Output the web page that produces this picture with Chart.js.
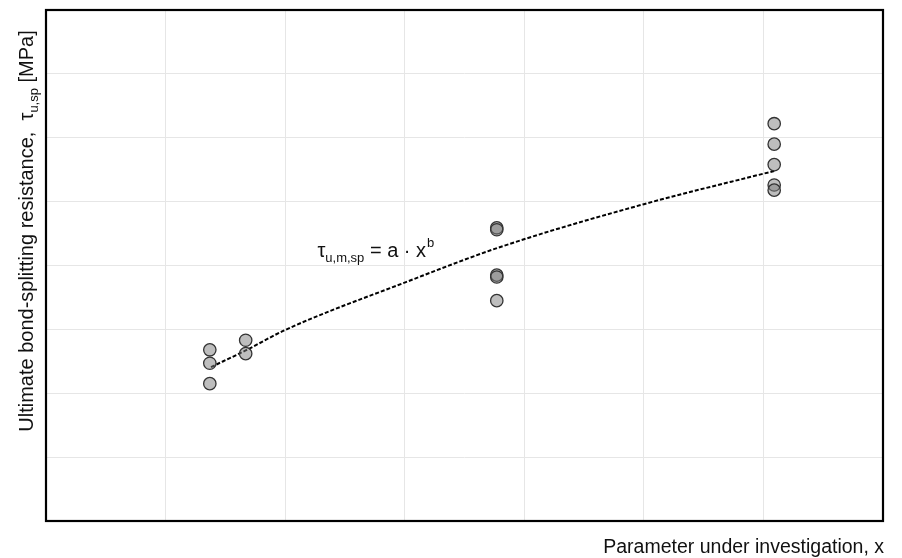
<!DOCTYPE html>
<html>
<head>
    <title>Bond-splitting resistance</title>
    <script src="https://cdn.jsdelivr.net/npm/chart.js"></script>
    <style>
        body {
            margin: 0;
            padding: 0;
            background-color: #ffffff;
        }
        .chart-container {
            width: 902px;
            height: 558px;
        }
    </style>
</head>
<body>
    <div class="chart-container">
        <canvas id="chart1"></canvas>
    </div>

<script>
        // Test results (x = parameter, y = tau_u,sp)
        const testX = [1.37, 1.37, 1.37, 1.67, 1.67, 3.77, 3.77, 3.77, 3.77, 3.77, 6.09, 6.09, 6.09, 6.09, 6.09];
        const testY = [2.68, 2.47, 2.15, 2.83, 2.62, 4.59, 4.56, 3.85, 3.82, 3.45, 6.22, 5.90, 5.58, 5.26, 5.18];

        // Fitted curve tau = a * x^b
        const fitX = [1.38, 1.67, 2.00, 3.01, 3.80, 5.00, 6.09];
        const fitY = [2.41, 2.67, 2.99, 3.74, 4.29, 4.96, 5.48];

        // Axis ranges (no tick labels shown)
        const xMax = 7;
        const yMax = 8;

        const FONT = '"Liberation Sans", Arial, sans-serif';

        // draws frame, axis titles and the formula label
        const decorPlugin = {
            id: 'decor',
            afterDraw(chart) {
                const ctx = chart.ctx;
                const area = chart.chartArea;
                const xs = chart.scales.x;
                const ys = chart.scales.y;

                ctx.save();
                ctx.strokeStyle = '#000';
                ctx.lineWidth = 2.2;
                ctx.strokeRect(area.left, area.top, area.right - area.left, area.bottom - area.top);

                // formula label
                ctx.fillStyle = '#111';
                ctx.textBaseline = 'alphabetic';
                let px = xs.getPixelForValue(2.27);
                const py = ys.getPixelForValue(4.13);
                ctx.font = '20px ' + FONT;
                ctx.fillText('τ', px, py);
                px += ctx.measureText('τ').width;
                ctx.font = '13px ' + FONT;
                ctx.fillText('u,m,sp', px, py + 5);
                px += ctx.measureText('u,m,sp').width;
                ctx.font = '20px ' + FONT;
                ctx.fillText(' = a · x', px, py);
                px += ctx.measureText(' = a · x').width;
                ctx.font = '13px ' + FONT;
                ctx.fillText('b', px + 1, py - 10);

                // x axis title
                ctx.font = '19.5px ' + FONT;
                ctx.textAlign = 'right';
                ctx.fillText('Parameter under investigation, x', area.right + 1, 553);

                // y axis title (rotated, with subscript)
                ctx.translate(33, 231);
                ctx.rotate(-Math.PI / 2);
                ctx.textAlign = 'left';
                const partA = 'Ultimate bond-splitting resistance,  τ';
                const partB = 'u,sp';
                const partC = ' [MPa]';
                ctx.font = '20px ' + FONT;
                const wA = ctx.measureText(partA).width;
                const wC = ctx.measureText(partC).width;
                ctx.font = '13px ' + FONT;
                const wB = ctx.measureText(partB).width;
                let tx = -(wA + wB + wC) / 2;
                ctx.font = '20px ' + FONT;
                ctx.fillText(partA, tx, 0);
                tx += wA;
                ctx.font = '13px ' + FONT;
                ctx.fillText(partB, tx, 5);
                tx += wB;
                ctx.font = '20px ' + FONT;
                ctx.fillText(partC, tx, 0);
                ctx.restore();
            }
        };

        window.onload = function() {
            const ctx1 = document.getElementById('chart1').getContext('2d');

            new Chart(ctx1, {
                type: 'scatter',
                data: {
                    datasets: [
                        {
                            label: 'Fit',
                            data: fitX.map((x, i) => ({ x: x, y: fitY[i] })),
                            showLine: true,
                            borderColor: '#000',
                            borderWidth: 2,
                            borderDash: [4, 2],
                            pointRadius: 0,
                            cubicInterpolationMode: 'monotone',
                            order: 2
                        },
                        {
                            label: 'Tests',
                            data: testX.map((x, i) => ({ x: x, y: testY[i] })),
                            pointRadius: 6.2,
                            pointBackgroundColor: 'rgba(125, 125, 125, 0.5)',
                            pointBorderColor: '#333',
                            pointBorderWidth: 1.3,
                            order: 1
                        }
                    ]
                },
                options: {
                    responsive: true,
                    maintainAspectRatio: false,
                    animation: false,
                    layout: {
                        padding: { left: 46, top: 10, right: 19, bottom: 37 }
                    },
                    plugins: {
                        legend: { display: false },
                        tooltip: { enabled: false }
                    },
                    scales: {
                        x: {
                            type: 'linear',
                            min: 0,
                            max: xMax,
                            ticks: { display: false, stepSize: 1 },
                            grid: { color: '#e6e6e6', drawTicks: false },
                            border: { display: false }
                        },
                        y: {
                            type: 'linear',
                            min: 0,
                            max: yMax,
                            ticks: { display: false, stepSize: 1 },
                            grid: { color: '#e6e6e6', drawTicks: false },
                            border: { display: false }
                        }
                    }
                },
                plugins: [decorPlugin]
            });
        };
    </script>
</body>
</html>
